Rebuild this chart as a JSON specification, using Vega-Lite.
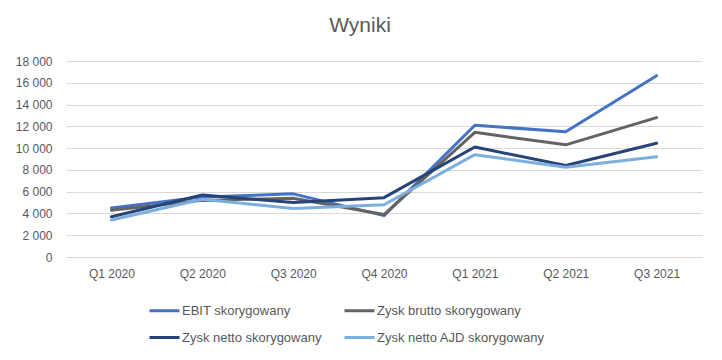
{
  "$schema": "https://vega.github.io/schema/vega-lite/v6.json",
  "width": 636,
  "height": 196,
  "autosize": {"type": "none"},
  "padding": {"left": 66, "top": 61, "right": 20, "bottom": 103},
  "background": "white",
  "title": {"text": "Wyniki", "fontSize": 21, "font": "Liberation Sans", "fontWeight": "normal", "color": "#595959", "anchor": "middle", "dx": -24, "offset": 19},
  "data": {"values": [
    {"q": "Q1 2020", "s": "EBIT skorygowany", "v": 4500},
    {"q": "Q2 2020", "s": "EBIT skorygowany", "v": 5500},
    {"q": "Q3 2020", "s": "EBIT skorygowany", "v": 5800},
    {"q": "Q4 2020", "s": "EBIT skorygowany", "v": 3800},
    {"q": "Q1 2021", "s": "EBIT skorygowany", "v": 12100},
    {"q": "Q2 2021", "s": "EBIT skorygowany", "v": 11500},
    {"q": "Q3 2021", "s": "EBIT skorygowany", "v": 16650},
    {"q": "Q1 2020", "s": "Zysk brutto skorygowany", "v": 4300},
    {"q": "Q2 2020", "s": "Zysk brutto skorygowany", "v": 5200},
    {"q": "Q3 2020", "s": "Zysk brutto skorygowany", "v": 5400},
    {"q": "Q4 2020", "s": "Zysk brutto skorygowany", "v": 3900},
    {"q": "Q1 2021", "s": "Zysk brutto skorygowany", "v": 11450},
    {"q": "Q2 2021", "s": "Zysk brutto skorygowany", "v": 10300},
    {"q": "Q3 2021", "s": "Zysk brutto skorygowany", "v": 12800},
    {"q": "Q1 2020", "s": "Zysk netto skorygowany", "v": 3700},
    {"q": "Q2 2020", "s": "Zysk netto skorygowany", "v": 5700},
    {"q": "Q3 2020", "s": "Zysk netto skorygowany", "v": 5000},
    {"q": "Q4 2020", "s": "Zysk netto skorygowany", "v": 5450},
    {"q": "Q1 2021", "s": "Zysk netto skorygowany", "v": 10100},
    {"q": "Q2 2021", "s": "Zysk netto skorygowany", "v": 8400},
    {"q": "Q3 2021", "s": "Zysk netto skorygowany", "v": 10450},
    {"q": "Q1 2020", "s": "Zysk netto AJD skorygowany", "v": 3400},
    {"q": "Q2 2020", "s": "Zysk netto AJD skorygowany", "v": 5300},
    {"q": "Q3 2020", "s": "Zysk netto AJD skorygowany", "v": 4450},
    {"q": "Q4 2020", "s": "Zysk netto AJD skorygowany", "v": 4800},
    {"q": "Q1 2021", "s": "Zysk netto AJD skorygowany", "v": 9400},
    {"q": "Q2 2021", "s": "Zysk netto AJD skorygowany", "v": 8250},
    {"q": "Q3 2021", "s": "Zysk netto AJD skorygowany", "v": 9200}
  ]},
  "mark": {"type": "line", "strokeWidth": 3, "strokeCap": "round", "strokeJoin": "round"},
  "encoding": {
    "x": {"field": "q", "type": "ordinal", "sort": null,
      "scale": {"type": "point", "padding": 0.5},
      "axis": {"title": null, "labelAngle": 0, "ticks": false, "domain": true, "domainColor": "#D9D9D9", "labelFontSize": 12, "labelFont": "Liberation Sans", "labelColor": "#595959", "labelPadding": 11, "grid": false}},
    "y": {"field": "v", "type": "quantitative",
      "scale": {"domain": [0, 18000], "nice": false},
      "axis": {"title": null, "values": [0,2000,4000,6000,8000,10000,12000,14000,16000,18000], "format": ",d", "labelExpr": "replace(datum.label, ',', ' ')", "domain": false, "ticks": false, "gridColor": "#D9D9D9", "labelFontSize": 12, "labelFont": "Liberation Sans", "labelColor": "#595959", "labelPadding": 14}},
    "color": {"field": "s", "type": "nominal",
      "scale": {"domain": ["EBIT skorygowany", "Zysk brutto skorygowany", "Zysk netto skorygowany", "Zysk netto AJD skorygowany"], "range": ["#4472C4", "#636363", "#264478", "#7CAFDD"]},
      "legend": {"title": null, "orient": "none", "direction": "horizontal", "legendX": 82, "legendY": 233, "columns": 2, "symbolType": "stroke", "symbolSize": 900, "symbolStrokeWidth": 3, "labelFontSize": 13, "labelFont": "Liberation Sans", "labelColor": "#595959", "labelOffset": 1, "labelLimit": 300, "rowPadding": 3, "columnPadding": 16}}
  },
  "config": {"view": {"stroke": null}}
}
